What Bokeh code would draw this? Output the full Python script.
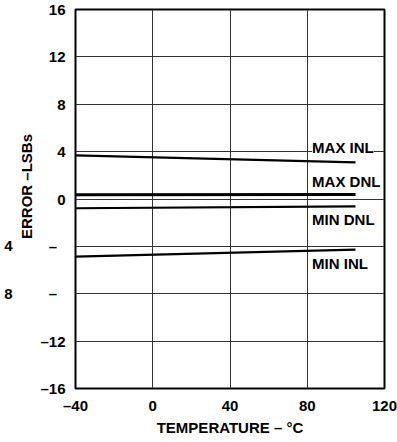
from bokeh.plotting import figure
from bokeh.models import FixedTicker, Label, Range1d, LinearAxis
from bokeh.embed import file_html
from bokeh.resources import INLINE

# ---- data ----
temps = [-40, 105]
max_inl = [3.68, 3.10]
max_dnl = [0.35, 0.37]
min_dnl = [-0.78, -0.63]
min_inl = [-4.86, -4.27]

x_ticks = [-40, 0, 40, 80, 120]
x_tick_labels = ["–40", "0", "40", "80", "120"]
y_ticks = [16, 12, 8, 4, 0, -4, -8, -12, -16]
y_tick_labels = ["16", "12", "8", "4", "0", "–\u00a0\u00a0", "–\u00a0\u00a0", "–12", "–16"]
series_names = ["MAX INL", "MAX DNL", "MIN DNL", "MIN INL"]
stray_digit_ticks = [-4, -8]
stray_digits = ["4", "8"]

FONT = "Liberation Sans"
FS = "15px"

p = figure(width=397, height=442,
           x_range=Range1d(-40, 120), y_range=Range1d(-16, 16),
           output_backend="svg", toolbar_location=None,
           min_border_left=75, min_border_right=13,
           min_border_top=9, min_border_bottom=54,
           background_fill_color="white", border_fill_color="white")

p.outline_line_color = "black"
p.outline_line_width = 2

extra = LinearAxis(ticker=FixedTicker(ticks=stray_digit_ticks),
                   major_label_overrides={t: l for t, l in zip(stray_digit_ticks, stray_digits)})
p.add_layout(extra, "left")

def style_axis(ax):
    ax.axis_line_color = None
    ax.major_tick_line_color = None
    ax.minor_tick_line_color = None
    ax.major_tick_out = 0
    ax.major_tick_in = 0
    ax.major_label_text_font = FONT
    ax.major_label_text_font_style = "bold"
    ax.major_label_text_font_size = FS
    ax.major_label_text_color = "black"
    ax.axis_label_text_font = FONT
    ax.axis_label_text_font_style = "bold"
    ax.axis_label_text_font_size = FS
    ax.axis_label_text_color = "black"

for ax, ticks, labels in ((p.xaxis[0], x_ticks, x_tick_labels), (p.yaxis[0], y_ticks, y_tick_labels)):
    ax.ticker = FixedTicker(ticks=ticks)
    ax.major_label_overrides = {t: l for t, l in zip(ticks, labels)}
    style_axis(ax)
style_axis(extra)
extra.major_label_standoff = 3

p.xaxis[0].axis_label = "TEMPERATURE – °C"
p.xaxis[0].major_label_standoff = 8
p.xaxis[0].axis_label_standoff = 2
p.yaxis[0].axis_label = "\u00a0" * 6 + "ERROR –LSBs"
p.yaxis[0].major_label_standoff = 10
p.yaxis[0].axis_label_standoff = 2

p.xgrid.ticker = FixedTicker(ticks=x_ticks)
p.ygrid.ticker = FixedTicker(ticks=y_ticks)
for g in (p.xgrid[0], p.ygrid[0]):
    g.grid_line_color = "#333333"
    g.grid_line_width = 1
    g.grid_line_alpha = 1

p.line(temps, max_inl, line_color="black", line_width=2.2)
p.line(temps, max_dnl, line_color="black", line_width=3)
p.line(temps, min_dnl, line_color="black", line_width=2.2)
p.line(temps, min_inl, line_color="black", line_width=2.2)

label_y = [4.35, 1.44, -1.73, -5.45]
for name, ly in zip(series_names, label_y):
    p.add_layout(Label(x=82.5, y=ly, text=name, text_baseline="middle", text_align="left",
                       text_font=FONT, text_font_style="bold", text_font_size=FS,
                       text_color="black", background_fill_color="white"))

open("out.html", "w").write(file_html(p, INLINE))
